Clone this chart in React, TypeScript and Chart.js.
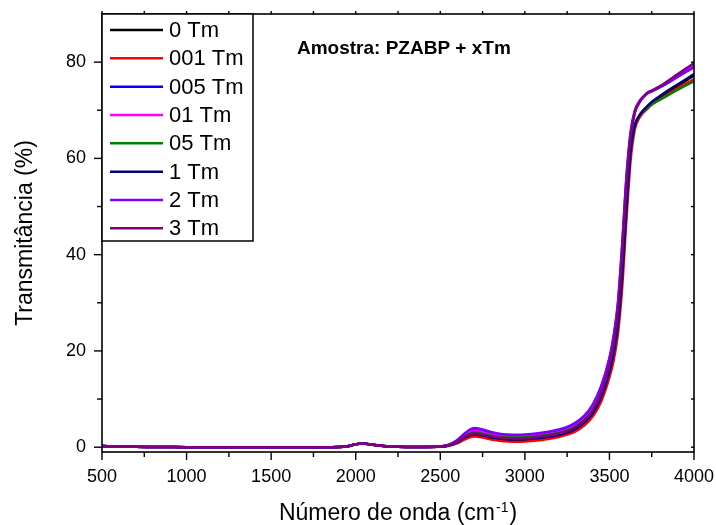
import { useEffect, useRef } from 'react';
import { Chart, registerables } from 'chart.js';

Chart.register(...registerables);

const FONT = '"Liberation Sans", Arial, Helvetica, sans-serif';

// Wavenumber grid (cm-1) shared by every spectrum
const wavenumbers = [
  500, 600, 700, 800, 900, 1000, 1200, 1400, 1600, 1800, 1900, 1950, 2000, 2030, 2060, 2100, 2150, 2200, 2300, 2400,
  2500, 2550, 2600, 2650, 2700, 2750, 2800, 2850, 2900, 2950, 3000, 3100, 3200, 3250, 3300, 3350, 3400, 3450, 3500,
  3525, 3550, 3575, 3600, 3625, 3650, 3675, 3700, 3725, 3750, 3800, 3850, 3900, 3950, 4000,
];

// 500–2400 cm-1: all samples are practically opaque (common part)
const lowRegion = [0.25, 0.15, 0.08, 0.05, 0.02, 0, 0, 0, 0, 0, 0.05, 0.2, 0.6, 0.75, 0.7, 0.5, 0.3, 0.15, 0.05, 0.05];

// 2500–4000 cm-1, transmittance (%) per sample
const tm0 = [0.12, 0.35, 0.95, 2.0, 2.6, 2.35, 1.95, 1.7, 1.55, 1.5, 1.55, 1.85, 2.45, 2.95, 3.7, 5.0, 6.9, 10.1, 15.4, 19.2, 25, 35, 49, 61, 66.6, 68.6, 69.8, 70.6, 71.4, 72.6, 73.8, 75.0, 76.1, 77.2];
const tm001 = [0.1, 0.3, 0.8, 1.7, 2.2, 2.0, 1.6, 1.35, 1.2, 1.15, 1.2, 1.5, 2.1, 2.6, 3.3, 4.5, 6.3, 9.4, 14.5, 18, 23.5, 33, 47, 59.5, 66, 68.3, 69.5, 70.3, 71.2, 72.3, 73.4, 74.5, 75.5, 76.4];
const tm005 = [0.15, 0.45, 1.4, 2.85, 3.7, 3.4, 2.9, 2.6, 2.45, 2.4, 2.45, 2.85, 3.5, 4.0, 4.9, 6.3, 8.5, 12.3, 18.3, 22.8, 29.5, 41.5, 55.5, 65, 69.7, 71.6, 72.7, 73.5, 73.9, 74.8, 75.8, 76.9, 78.0, 79.0];
const tm01 = [0.15, 0.45, 1.3, 2.65, 3.4, 3.1, 2.65, 2.35, 2.2, 2.15, 2.2, 2.55, 3.15, 3.65, 4.5, 5.8, 7.9, 11.5, 17.2, 21.5, 28, 40, 54, 64.5, 69.5, 71.5, 72.7, 73.6, 74.0, 75.0, 76.1, 77.3, 78.5, 79.6];
const tm05 = [0.15, 0.4, 1.2, 2.4, 3.1, 2.8, 2.4, 2.15, 2.0, 2.0, 2.05, 2.4, 3.0, 3.5, 4.3, 5.6, 7.6, 11.0, 16.5, 20.5, 26.5, 37, 51, 62, 67, 68.8, 69.8, 70.5, 71.2, 72.2, 73.2, 74.2, 75.1, 76.0];
const tm1 = [0.12, 0.35, 1.0, 2.1, 2.7, 2.45, 2.05, 1.8, 1.65, 1.6, 1.65, 1.95, 2.55, 3.05, 3.8, 5.1, 7.0, 10.3, 15.6, 19.5, 25.3, 35.5, 49.5, 61.3, 66.8, 68.8, 70.0, 70.9, 71.7, 73.0, 74.2, 75.3, 76.4, 77.5];
const tm2 = [0.15, 0.5, 1.5, 3.05, 4.0, 3.7, 3.15, 2.8, 2.65, 2.6, 2.65, 3.0, 3.7, 4.2, 5.1, 6.5, 8.8, 12.6, 18.6, 23.2, 30, 42, 56, 65.5, 70, 71.8, 72.8, 73.6, 74.0, 74.9, 75.9, 76.9, 77.9, 78.9];
const tm3 = [0.15, 0.4, 1.15, 2.3, 2.9, 2.65, 2.25, 2.0, 1.85, 1.8, 1.85, 2.2, 2.85, 3.35, 4.2, 5.5, 7.6, 11.2, 17, 21.5, 28, 40, 54, 64.5, 69.5, 71.5, 72.8, 73.7, 74.1, 75.0, 76.2, 77.4, 78.6, 79.8];

const seriesLabels = ['0 Tm', '001 Tm', '005 Tm', '01 Tm', '05 Tm', '1 Tm', '2 Tm', '3 Tm'];
const seriesValues = [tm0, tm001, tm005, tm01, tm05, tm1, tm2, tm3];
const seriesColors = ['#000000', '#FF0000', '#0000FF', '#FF00FF', '#008000', '#000080', '#8000FF', '#800080'];

const xMajorTicks = [500, 1000, 1500, 2000, 2500, 3000, 3500, 4000];
const xMinorTicks = [750, 1250, 1750, 2250, 2750, 3250, 3750];
const yMajorTicks = [0, 20, 40, 60, 80];
const yMinorTicks = [10, 30, 50, 70];

const xTitle = 'Número de onda (cm';
const xTitleSup = '-1';
const xTitleEnd = ')';
const yTitle = 'Transmitância (%)';
const sampleNote = 'Amostra: PZABP + xTm';

// Frame, tick marks and axis titles
const framePlugin = {
  id: 'frame',
  afterDatasetsDraw(chart: any) {
    const { ctx, chartArea: a, scales } = chart;
    const sx = scales.x;
    const sy = scales.y;
    ctx.save();
    ctx.strokeStyle = '#000';
    ctx.lineWidth = 1.6;
    ctx.strokeRect(a.left, a.top, a.right - a.left, a.bottom - a.top);

    ctx.lineWidth = 1.4;
    const line = (x1: number, y1: number, x2: number, y2: number) => {
      ctx.beginPath();
      ctx.moveTo(x1, y1);
      ctx.lineTo(x2, y2);
      ctx.stroke();
    };
    xMajorTicks.forEach((v) => {
      const px = sx.getPixelForValue(v);
      line(px, a.bottom, px, a.bottom + 8);
      line(px, a.top, px, a.top - 3);
    });
    xMinorTicks.forEach((v) => {
      const px = sx.getPixelForValue(v);
      line(px, a.bottom, px, a.bottom + 5);
      line(px, a.top, px, a.top - 3);
    });
    yMajorTicks.forEach((v) => {
      const py = sy.getPixelForValue(v);
      line(a.left, py, a.left - 8, py);
      line(a.right, py, a.right - 3, py);
    });
    yMinorTicks.forEach((v) => {
      const py = sy.getPixelForValue(v);
      line(a.left, py, a.left - 5, py);
      line(a.right, py, a.right - 3, py);
    });

    ctx.fillStyle = '#000';
    ctx.textAlign = 'left';
    ctx.textBaseline = 'alphabetic';

    // x title with superscript
    ctx.font = `23px ${FONT}`;
    const wMain = ctx.measureText(xTitle).width;
    const wEnd = ctx.measureText(xTitleEnd).width;
    ctx.font = `14px ${FONT}`;
    const wSup = ctx.measureText(xTitleSup).width;
    const total = wMain + wSup + wEnd + 2;
    const x0 = (a.left + a.right) / 2 - total / 2;
    ctx.font = `23px ${FONT}`;
    ctx.fillText(xTitle, x0, 520);
    ctx.font = `14px ${FONT}`;
    ctx.fillText(xTitleSup, x0 + wMain + 1, 512);
    ctx.font = `23px ${FONT}`;
    ctx.fillText(xTitleEnd, x0 + wMain + wSup + 2, 520);

    // y title
    ctx.save();
    ctx.translate(32, (a.top + a.bottom) / 2);
    ctx.rotate(-Math.PI / 2);
    ctx.textAlign = 'center';
    ctx.fillText(yTitle, 0, 0);
    ctx.restore();

    // sample note
    ctx.font = `bold 19px ${FONT}`;
    ctx.fillText(sampleNote, 297, 54);
    ctx.restore();
  },
};

// Boxed legend in the upper-left corner of the plot
const legendPlugin = {
  id: 'boxLegend',
  afterDraw(chart: any) {
    const { ctx, chartArea: a } = chart;
    const left = a.left;
    const top = a.top;
    const width = 151;
    const height = 227;
    ctx.save();
    ctx.fillStyle = '#fff';
    ctx.fillRect(left, top, width, height);
    ctx.strokeStyle = '#000';
    ctx.lineWidth = 1.5;
    ctx.strokeRect(left, top, width, height);
    ctx.font = `22px ${FONT}`;
    ctx.textBaseline = 'middle';
    ctx.textAlign = 'left';
    seriesLabels.forEach((label, i) => {
      const cy = top + 16 + i * 28.33;
      ctx.strokeStyle = seriesColors[i];
      ctx.lineWidth = 2.5;
      ctx.beginPath();
      ctx.moveTo(left + 8, cy);
      ctx.lineTo(left + 61, cy);
      ctx.stroke();
      ctx.fillStyle = '#000';
      ctx.fillText(label, left + 67, cy + 1);
    });
    ctx.restore();
  },
};

export default function App() {
  const canvasRef = useRef<HTMLCanvasElement | null>(null);

  useEffect(() => {
    document.body.style.margin = '0';
    const canvas = canvasRef.current;
    if (!canvas) return;

    const datasets = seriesValues.map((tail, i) => {
      const ys = [...lowRegion, ...tail];
      return {
        label: seriesLabels[i],
        data: wavenumbers.map((x, k) => ({ x, y: ys[k] })),
        borderColor: seriesColors[i],
        backgroundColor: seriesColors[i],
        borderWidth: 2.5,
        pointRadius: 0,
        fill: false,
        cubicInterpolationMode: 'monotone' as const,
        order: seriesLabels.length - i,
      };
    });

    const chart = new Chart(canvas, {
      type: 'line',
      data: { datasets },
      options: {
        responsive: false,
        animation: false,
        devicePixelRatio: 1,
        layout: { padding: { left: 0, top: 14, right: 22, bottom: 0 } },
        plugins: { legend: { display: false }, tooltip: { enabled: false } },
        scales: {
          x: {
            type: 'linear',
            min: 500,
            max: 4000,
            afterFit: (s: any) => {
              s.height = 73;
              s.paddingLeft = 0;
              s.paddingRight = 0;
            },
            grid: { display: false, drawTicks: false },
            border: { display: false },
            ticks: {
              stepSize: 500,
              padding: 14,
              maxRotation: 0,
              autoSkip: false,
              color: '#000',
              font: { family: FONT, size: 18 },
              callback: (v: any) => String(v),
            },
          },
          y: {
            type: 'linear',
            min: -1,
            max: 90,
            afterFit: (s: any) => {
              s.width = 102;
              s.paddingTop = 0;
              s.paddingBottom = 0;
            },
            grid: { display: false, drawTicks: false },
            border: { display: false },
            ticks: {
              stepSize: 20,
              includeBounds: false,
              padding: 16,
              color: '#000',
              font: { family: FONT, size: 18 },
              callback: (v: any) => String(v),
            },
          },
        },
      },
      plugins: [framePlugin, legendPlugin],
    });

    return () => chart.destroy();
  }, []);

  return (
    <div style={{ position: 'absolute', left: 0, top: 0, width: 716, height: 525, background: '#fff' }}>
      <canvas ref={canvasRef} width={716} height={525} style={{ display: 'block' }} />
    </div>
  );
}
